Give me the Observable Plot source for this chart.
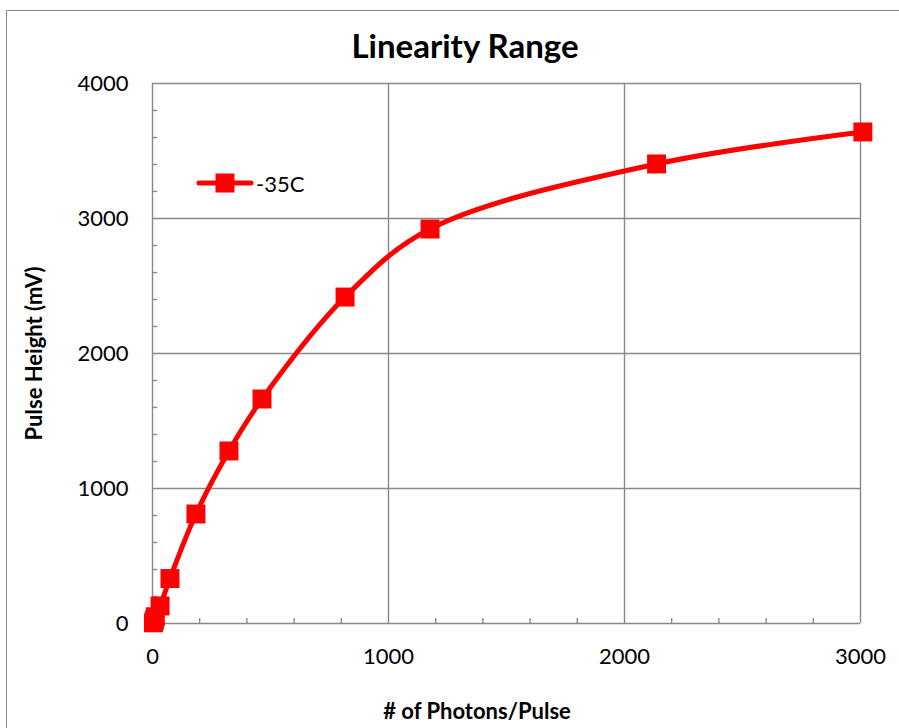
<!DOCTYPE html>
<html><head><meta charset="utf-8">
<script src="https://cdn.jsdelivr.net/npm/d3@7"></script>
<script src="https://cdn.jsdelivr.net/npm/@observablehq/plot@0.6"></script>
<style>
body{margin:0;background:#fff;font-family:Lato,"Open Sans",sans-serif;}
#chart{position:relative;width:899px;height:728px;overflow:hidden;background:#fff;}
#frame{position:absolute;left:6px;top:10px;width:1000px;height:1000px;border:1.5px solid #8a8a8a;box-sizing:border-box;}
#title{position:absolute;left:0;top:25px;width:930px;text-align:center;font-weight:bold;font-size:33px;line-height:40px;color:#000;}
#plot{position:absolute;left:0;top:70px;}
#xlabel{position:absolute;left:0;top:697px;width:954px;text-align:center;font-weight:bold;font-size:22px;line-height:28px;color:#000;}
#legend{position:absolute;left:196px;top:170px;display:flex;align-items:center;font-size:22px;color:#000;height:26px;}
#plot g[aria-label="y-axis label"] text{font-weight:bold;font-size:22px;}
</style></head>
<body>
<div id="chart">
<div id="frame"></div>
<div id="title">Linearity Range</div>
<div id="plot"></div>
<div id="xlabel"># of Photons/Pulse</div>
<div id="legend"></div>
</div>
<script>
const seriesName = "-35C";
const photons = [4, 8, 12, 32, 74, 184, 324, 464, 816, 1176, 2136, 3010];
const pulseHeight = [5, 25, 50, 130, 333, 811, 1278, 1663, 2418, 2922, 3404, 3641];
const xTicks = [0, 1000, 2000, 3000];
const yTicks = [0, 1000, 2000, 3000, 4000];
const xMinor = [200, 400, 600, 800, 1200, 1400, 1600, 1800, 2200, 2400, 2600, 2800];
const yMinor = [200, 400, 600, 800, 1200, 1400, 1600, 1800, 2200, 2400, 2600, 2800, 3200, 3400, 3600, 3800];

const data = photons.map((x, i) => ({x, y: pulseHeight[i]}));
const grid = "#898989";

const chart = Plot.plot({
  width: 899, height: 658,
  marginLeft: 152, marginRight: 39, marginTop: 13, marginBottom: 105,
  x: {domain: [0, 3000]},
  y: {domain: [0, 4000]},
  style: {fontFamily: 'Lato,"Open Sans",sans-serif', fontSize: "22px", color: "#000", background: "transparent", overflow: "visible"},
  marks: [
    Plot.ruleX(xTicks.slice(1), {stroke: grid, strokeWidth: 1.4}),
    Plot.ruleY(yTicks.slice(1), {stroke: grid, strokeWidth: 1.4}),
    Plot.ruleX(xMinor, {y1: 0, y2: 37, stroke: grid, strokeWidth: 1.4}),
    Plot.ruleY(yMinor, {x1: 0, x2: 22, stroke: grid, strokeWidth: 1.4}),
    Plot.ruleX([0], {stroke: grid, strokeWidth: 1.4}),
    Plot.ruleY([0], {stroke: grid, strokeWidth: 1.4}),
    Plot.axisX(xTicks, {tickSize: 0, tickPadding: 25, fontSize: 22, tickFormat: d => String(d), label: null}),
    Plot.axisY(yTicks, {tickSize: 0, tickPadding: 24, fontSize: 22, tickFormat: d => String(d), label: "Pulse Height (mV)", labelAnchor: "center", labelOffset: 126, labelArrow: "none"}),
    Plot.line(data, {x: "x", y: "y", stroke: "#ff0000", strokeWidth: 5, curve: "catmull-rom"}),
    Plot.dot(data, {x: "x", y: "y", symbol: "square", fill: "#ff0000", stroke: "none", r: 10.7})
  ]
});
document.getElementById("plot").appendChild(chart);

document.getElementById("legend").innerHTML =
  `<svg width="60" height="26"><line x1="3" y1="13" x2="55" y2="13" stroke="#ff0000" stroke-width="5" stroke-linecap="round"/><rect x="19.5" y="3.5" width="19" height="19" fill="#ff0000"/></svg><span>${seriesName}</span>`;
</script>
</body></html>
